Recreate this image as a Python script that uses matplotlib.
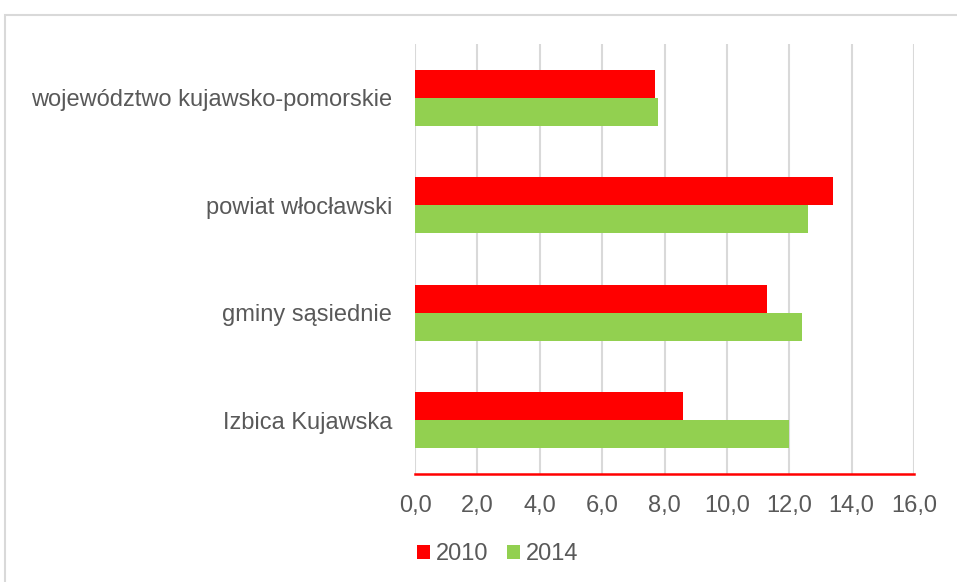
"""
Stopa bezrobocia: porównanie 2010 i 2014 (wykres słupkowy poziomy)
"""

import matplotlib.pyplot as plt
import numpy as np
from matplotlib.patches import Rectangle

categories = ['Izbica Kujawska', 'gminy sąsiednie', 'powiat włocławski',
              'województwo kujawsko-pomorskie']
values_2010 = [8.6, 11.3, 13.4, 7.7]
values_2014 = [12.0, 12.4, 12.6, 7.8]
series_labels = ['2010', '2014']
xticks = [0, 2, 4, 6, 8, 10, 12, 14, 16]

RED = '#FF0000'
GREEN = '#92D050'
TEXT = '#595959'
GRID = '#D9D9D9'

plt.rcParams['font.family'] = ['Liberation Sans', 'DejaVu Sans']

fig = plt.figure(figsize=(9.57, 5.82), dpi=100)
ax = fig.add_axes([415 / 957, 1 - 474 / 582, 499 / 957, 430 / 582])

y = np.arange(len(categories))
h = 0.26
ax.barh(y + h / 2, values_2010, height=h, color=RED, label=series_labels[0], zorder=3)
ax.barh(y - h / 2, values_2014, height=h, color=GREEN, label=series_labels[1], zorder=3)

ax.set_xlim(0, 16)
ax.set_ylim(-0.5, len(categories) - 0.5)
ax.set_xticks(xticks)
ax.set_xticklabels([f'{v:.1f}'.replace('.', ',') for v in xticks])
ax.set_yticks(y)
ax.set_yticklabels(categories)
ax.tick_params(axis='both', length=0, labelsize=17, colors=TEXT)
ax.tick_params(axis='x', pad=15)
ax.tick_params(axis='y', pad=16.5)

ax.grid(axis='x', color=GRID, linewidth=1.5, zorder=0)
for side in ['top', 'left', 'right']:
    ax.spines[side].set_visible(False)
ax.spines['bottom'].set_color(RED)
ax.spines['bottom'].set_linewidth(1.8)
ax.spines['bottom'].set_zorder(4)

leg = fig.legend(loc='lower left', bbox_to_anchor=(400 / 957, 0.0), ncol=2,
                 frameon=False, fontsize=17, handlelength=0.55, handleheight=0.55,
                 handletextpad=0.25, columnspacing=0.8, borderaxespad=0.3)
for t in leg.get_texts():
    t.set_color(TEXT)

# ramka obszaru wykresu
fig.patches.append(Rectangle((5 / 957, -0.1), 1.2, 1 - 15 / 582 + 0.1,
                             transform=fig.transFigure, fill=False,
                             edgecolor=GRID, linewidth=1.5))

fig.savefig('out.png', dpi=100)
